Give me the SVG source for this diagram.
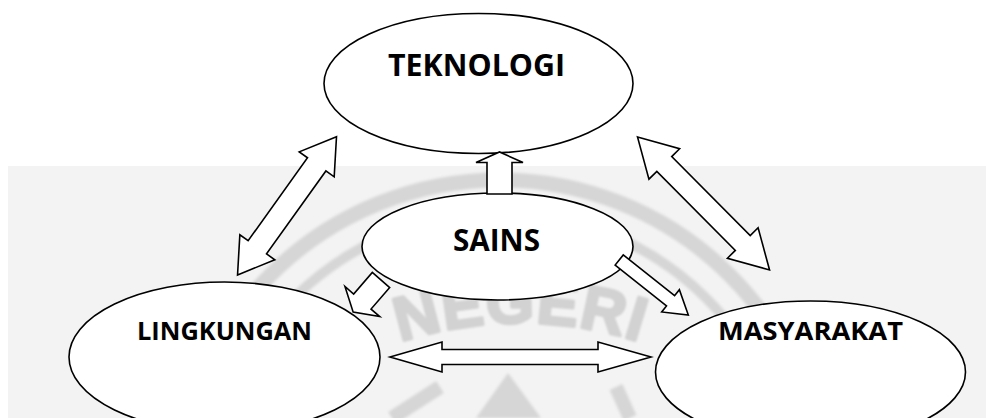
<svg xmlns="http://www.w3.org/2000/svg" width="986" height="418" viewBox="0 0 986 418">
  <defs>
    <filter id="soft" x="-10%" y="-10%" width="120%" height="120%">
      <feGaussianBlur stdDeviation="1.6"/>
    </filter>
    <filter id="softer" x="-10%" y="-10%" width="120%" height="120%">
      <feGaussianBlur stdDeviation="0.8"/>
    </filter>
    <path id="wmArc" d="M 135,708 A 385,385 0 0 1 905,708"/>
    <style>
      .node ellipse { fill: #ffffff; stroke: #000000; stroke-width: 1.6; }
      .label { font-family: "Open Sans", "Liberation Sans", sans-serif; font-weight: bold; fill: #000000; }
      .big { font-size: 31px; }
      .small { font-size: 24.5px; }
      .arrow { fill: #ffffff; stroke: #000000; stroke-width: 1.6; stroke-linejoin: miter; }
      .wm { fill: none; stroke: #d6d6d6; }
    </style>
  </defs>

  <rect width="986" height="418" fill="#ffffff"/>
  <!-- watermark background -->
  <g id="watermark">
    <rect x="8" y="166" width="978" height="252" fill="#f3f3f3"/>
    <g filter="url(#soft)">
      <circle class="wm" cx="500" cy="505" r="325" stroke-width="15"/>
      <circle class="wm" cx="500" cy="505" r="292" stroke-width="10"/>
      <path d="M 508,373 L 541,418 L 476,418 Z" fill="#d6d6d6"/>
      <path d="M 440,387 L 392,418" class="wm" stroke-width="14"/>
      <path d="M 616,387 L 630,418" class="wm" stroke-width="14"/>
    </g>
    <text filter="url(#softer)" font-family="Liberation Sans, sans-serif" font-weight="bold" font-size="62" fill="#d2d2d2" stroke="#d2d2d2" stroke-width="3" stroke-linejoin="round" letter-spacing="1">
      <textPath href="#wmArc" startOffset="50%" text-anchor="middle">NEGERI</textPath>
    </text>
  </g>

  <g id="teknologi" class="node">
    <ellipse cx="478.5" cy="83.5" rx="154.5" ry="70"/>
    <text class="label big" x="388" y="76" textLength="177" lengthAdjust="spacingAndGlyphs">TEKNOLOGI</text>
  </g>
  <g id="sains" class="node">
    <ellipse cx="497.5" cy="246.5" rx="135.5" ry="53.5"/>
    <text class="label big" x="453" y="251" textLength="87" lengthAdjust="spacingAndGlyphs">SAINS</text>
  </g>
  <g id="lingkungan" class="node">
    <ellipse cx="224.5" cy="357" rx="155.5" ry="75"/>
    <text class="label small" x="137" y="340" textLength="175" lengthAdjust="spacingAndGlyphs">LINGKUNGAN</text>
  </g>
  <g id="masyarakat" class="node">
    <ellipse cx="810.5" cy="372" rx="155" ry="71"/>
    <text class="label small" x="718" y="340" textLength="185" lengthAdjust="spacingAndGlyphs">MASYARAKAT</text>
  </g>

  <g id="connectors">
    <!-- TEKNOLOGI <-> LINGKUNGAN -->
    <polygon class="arrow" transform="translate(336.5,136.7) rotate(125.6)"
      points="0,0 34,-21.5 34,-11.3 136,-11.3 136,-21.5 170,0 136,21.5 136,11.3 34,11.3 34,21.5"/>
    <!-- TEKNOLOGI <-> MASYARAKAT -->
    <polygon class="arrow" transform="translate(637.5,137) rotate(45.2)"
      points="0,0 38,-21.6 38,-10.5 149.4,-10.5 149.4,-21.6 187.4,0 149.4,21.6 149.4,10.5 38,10.5 38,21.6"/>
    <!-- SAINS -> TEKNOLOGI -->
    <polygon class="arrow" points="487,194 487,162.5 476,162.5 499.5,152 523,162.5 512,162.5 512,194"/>
    <!-- SAINS -> LINGKUNGAN -->
    <polygon class="arrow" transform="translate(381,280) rotate(130.9)"
      points="0,-11.5 28.5,-11.5 28.5,-23 42.5,0 28.5,23 28.5,11.5 0,11.5"/>
    <!-- SAINS -> MASYARAKAT -->
    <polygon class="arrow" transform="translate(619.2,260) rotate(38.5)"
      points="0,-6.5 65.6,-6.5 65.6,-14.2 88.3,0 65.6,14.2 65.6,6.5 0,6.5"/>
    <!-- LINGKUNGAN <-> MASYARAKAT -->
    <polygon class="arrow" points="390,357 442,342 442,349.5 598,349.5 598,342 651,357 598,372 598,364.5 442,364.5 442,372"/>
  </g>
</svg>
